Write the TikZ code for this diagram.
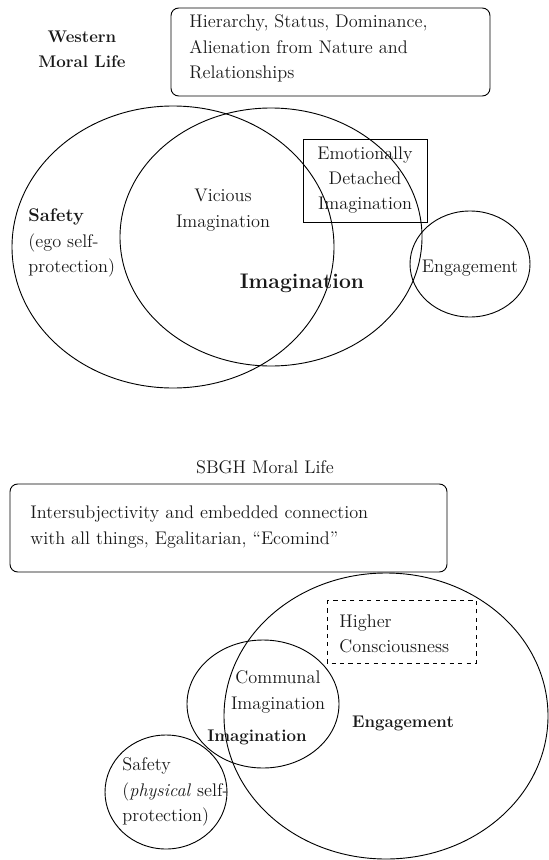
\documentclass[tikz,border=0pt]{standalone}
\usepackage{tikz}
\tikzset{
    txt/.style={font=\fontsize{13}{18.1}\selectfont, inner sep=0pt, text=black!90},
    bld/.style={font=\fontsize{12}{18.1}\selectfont\bfseries, inner sep=0pt, text=black!90},
    lbox/.style={draw, rounded corners=5.5pt}
}

\begin{document}
\begin{tikzpicture}[x=0.025cm, y=-0.025cm, line width=0.65pt]
    \useasboundingbox (0,0) rectangle (548,860);

    % Western moral life: heading and box
    \node[bld, align=center] (west) at (82,49.5) {Western\\Moral Life};
    \draw[lbox] (171,8) rectangle (490,96);
    \node[txt, align=left, anchor=west] (hier) at (189,48.5) {Hierarchy, Status, Dominance,\\Alienation from Nature and\\Relationships};

    % Safety, Imagination and Engagement circles
    \draw (173,247) ellipse (161 and 141);
    \draw (271,237) ellipse (151 and 129);
    \draw (470,264) ellipse (60 and 53);
    \draw (303,139) rectangle (427,222);

    % Labels inside the circles
    \node[txt, align=left, anchor=west] (safe1) at (28,243) {\textbf{Safety}\\(ego self-\\protection)};
    \node[txt, align=center] (vic) at (223,210) {Vicious\\Imagination};
    \node[txt, align=center] (emo) at (365,180) {Emotionally\\Detached\\Imagination};
    \node[bld, font=\fontsize{15}{18}\selectfont\bfseries] (imag1) at (302,283) {Imagination};
    \node[txt] (eng1) at (470,268) {Engagement};

    % SBGH moral life: heading and box
    \node[txt] (sbgh) at (265,467) {SBGH Moral Life};
    \draw[lbox] (10,484) rectangle (447,572);
    \node[txt, align=left, anchor=west] (inter) at (30,527) {Intersubjectivity and embedded connection\\with all things, Egalitarian, ``Ecomind''};

    % Engagement, Imagination and Safety circles
    \draw (386,716) ellipse (162 and 143);
    \draw (263,704) ellipse (76 and 64);
    \draw (166,792) ellipse (61 and 57);
    \draw[dashed] (327,600) rectangle (476,663);

    % Labels inside the circles
    \node[txt, align=left, anchor=west] (higher) at (339,634) {Higher\\Consciousness};
    \node[txt, align=center] (comm) at (278,692) {Communal\\Imagination};
    \node[bld] (imag2) at (257,737) {Imagination};
    \node[bld] (eng2) at (403,723) {Engagement};
    \node[txt, align=left, anchor=west] (safe2) at (122,792) {Safety\\(\textit{physical} self-\\protection)};
\end{tikzpicture}
\end{document}
